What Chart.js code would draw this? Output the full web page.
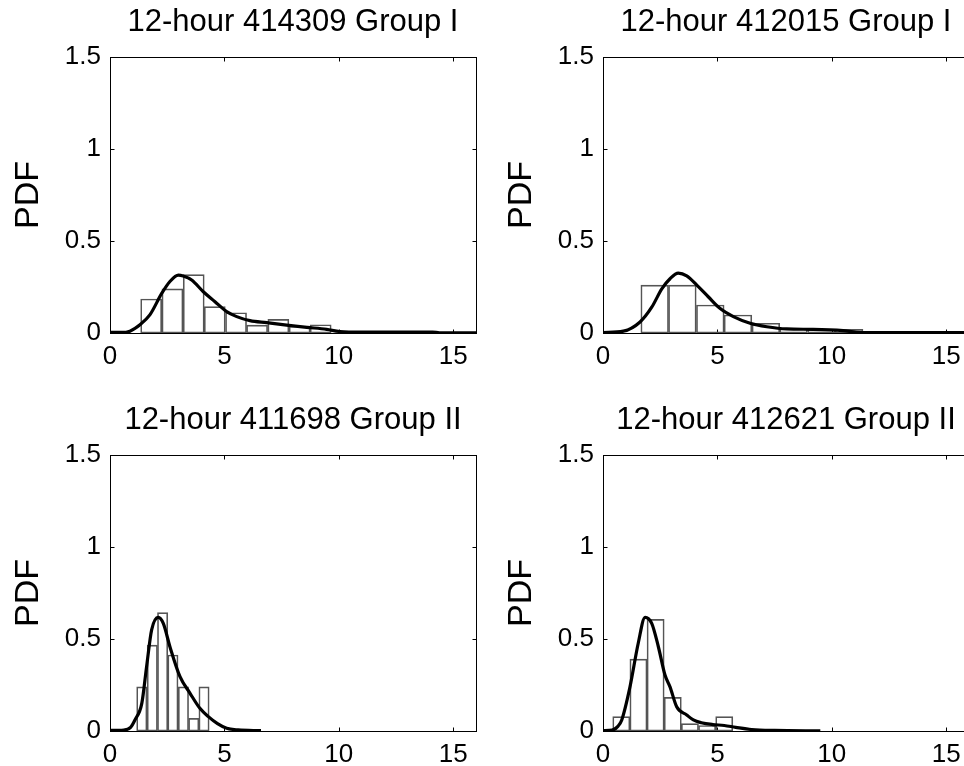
<!DOCTYPE html>
<html>
<head>
<meta charset="utf-8">
<script src="https://cdn.jsdelivr.net/npm/chart.js@4.4.0/dist/chart.umd.min.js"></script>
<style>
    html, body { margin: 0; padding: 0; background: #fff; overflow: hidden; width: 964px; height: 766px; }
    .panel { position: absolute; }
</style>
</head>
<body>
<div class="panel" style="left:0px;top:0px"><canvas id="c1" width="486" height="378"></canvas></div>
<div class="panel" style="left:493px;top:0px"><canvas id="c2" width="486" height="378"></canvas></div>
<div class="panel" style="left:0px;top:398px"><canvas id="c3" width="486" height="378"></canvas></div>
<div class="panel" style="left:493px;top:398px"><canvas id="c4" width="486" height="378"></canvas></div>
<script>
const xTickValues = [0, 5, 10, 15];
const yTickValues = [0, 0.5, 1, 1.5];
const panelTitles = ['12-hour 414309 Group I', '12-hour 412015 Group I', '12-hour 411698 Group II', '12-hour 412621 Group II'];

// station 414309
const hist1Centers = [1.80, 2.73, 3.66, 4.58, 5.51, 6.43, 7.36, 8.29, 9.21];
const hist1Heights = [0.185, 0.24, 0.317, 0.143, 0.11, 0.043, 0.074, 0.037, 0.045];
const kde1X = [0, 0.5, 0.87, 1.31, 1.75, 2.26, 2.62, 2.99, 3.20, 3.57, 4.08, 4.59, 5.10, 5.54, 6.12, 6.85, 7.72, 8.60, 9.47, 10.05, 11, 14.1, 14.4, 16];
const kde1Y = [0.003, 0.003, 0.01, 0.045, 0.10, 0.215, 0.28, 0.315, 0.31, 0.288, 0.224, 0.17, 0.116, 0.089, 0.067, 0.056, 0.043, 0.031, 0.02, 0.008, 0.005, 0.005, 0.001, 0.001];

// station 412015
const hist2Centers = [2.26, 3.47, 4.69, 5.90, 7.12, 8.33, 9.55, 10.76, 11.98];
const hist2Heights = [0.26, 0.26, 0.152, 0.098, 0.053, 0.025, 0.02, 0.02, 0.008];
const kde2X = [0, 0.89, 1.62, 2.13, 2.57, 2.93, 3.29, 3.66, 4.10, 4.60, 5.11, 5.70, 6.43, 7.16, 8.03, 9.18, 10.5, 11.09, 12, 16];
const kde2Y = [0.002, 0.01, 0.06, 0.14, 0.24, 0.295, 0.325, 0.31, 0.26, 0.197, 0.134, 0.089, 0.053, 0.034, 0.022, 0.02, 0.013, 0.004, 0.002, 0.002];

// station 411698
const hist3Centers = [1.39, 1.85, 2.30, 2.75, 3.21, 3.66, 4.11];
const hist3Heights = [0.24, 0.467, 0.643, 0.413, 0.24, 0.069, 0.24];
const kde3X = [0, 0.6, 0.9, 1.09, 1.39, 1.60, 1.82, 2.11, 2.33, 2.62, 3.06, 3.50, 3.93, 4.30, 4.7, 5.1, 5.6, 6.6];
const kde3Y = [0.003, 0.005, 0.02, 0.06, 0.15, 0.35, 0.55, 0.618, 0.585, 0.458, 0.295, 0.205, 0.123, 0.078, 0.04, 0.015, 0.006, 0.002];

// station 412621
const hist4Centers = [0.80, 1.55, 2.30, 3.05, 3.80, 4.55, 5.30];
const hist4Heights = [0.078, 0.391, 0.607, 0.183, 0.04, 0.03, 0.078];
const kde4X = [0, 0.4, 0.65, 0.82, 1.18, 1.54, 1.84, 2.13, 2.42, 2.71, 2.93, 3.22, 3.66, 3.95, 4.3, 4.8, 5.3, 5.8, 6.5, 7.5, 9.5];
const kde4Y = [0.002, 0.005, 0.025, 0.06, 0.24, 0.477, 0.618, 0.585, 0.458, 0.304, 0.24, 0.132, 0.087, 0.06, 0.045, 0.035, 0.03, 0.02, 0.008, 0.003, 0.001];

const FONT = "'Liberation Sans', Arial, sans-serif";
Chart.defaults.font.family = FONT;
Chart.defaults.color = '#000';

// matlab style box with inward ticks
const boxTicks = {
    id: 'boxTicks',
    beforeDatasetsDraw(chart) {
        const { ctx, chartArea: a, scales: { x, y } } = chart;
        const L = Math.round(a.left) + 0.5, R = Math.round(a.right) + 0.5;
        const T = Math.round(a.top) + 0.5, B = Math.round(a.bottom) + 0.5;
        ctx.save();
        ctx.strokeStyle = '#000';
        ctx.lineWidth = 1;
        ctx.strokeRect(L, T, R - L, B - T);
        ctx.beginPath();
        x.ticks.forEach(t => {
            const px = Math.round(x.getPixelForValue(t.value)) + 0.5;
            ctx.moveTo(px, B); ctx.lineTo(px, B - 4);
            ctx.moveTo(px, T); ctx.lineTo(px, T + 4);
        });
        y.ticks.forEach(t => {
            const py = Math.round(y.getPixelForValue(t.value)) + 0.5;
            ctx.moveTo(L, py); ctx.lineTo(L + 4, py);
            ctx.moveTo(R, py); ctx.lineTo(R - 4, py);
        });
        ctx.stroke();
        ctx.restore();
    }
};

function makePanel(id, title, centers, heights, kx, ky) {
    new Chart(document.getElementById(id), {
        type: 'bar',
        data: {
            datasets: [{
                type: 'line',
                data: kx.map((v, i) => ({ x: v, y: ky[i] })),
                borderColor: '#000',
                borderWidth: 3.2,
                pointRadius: 0,
                cubicInterpolationMode: 'monotone',
                fill: false,
                order: 0
            }, {
                type: 'bar',
                data: centers.map((v, i) => ({ x: v, y: heights[i] })),
                backgroundColor: 'rgba(255,255,255,0)',
                borderColor: '#555',
                borderWidth: 1,
                borderSkipped: false,
                barPercentage: 1,
                categoryPercentage: 1,
                order: 1
            }]
        },
        options: {
            responsive: false,
            animation: false,
            layout: { padding: { left: 0, right: 10, top: 0, bottom: 0 } },
            plugins: {
                legend: { display: false },
                tooltip: { enabled: false },
                title: {
                    display: true, text: title, fullSize: false, color: '#000',
                    font: { size: 31, weight: 'normal', lineHeight: 1.2 },
                    padding: { top: 3.4, bottom: 16.4 }
                }
            },
            scales: {
                x: {
                    type: 'linear', min: 0, max: 16, offset: false,
                    grid: { display: false, drawTicks: false },
                    border: { display: false },
                    afterBuildTicks: s => { s.ticks = xTickValues.map(v => ({ value: v })); },
                    afterFit: s => { s.height = 45; },
                    ticks: { color: '#000', font: { size: 26 }, padding: 8, maxRotation: 0, autoSkip: false,
                        callback: v => String(v) }
                },
                y: {
                    type: 'linear', min: 0, max: 1.5,
                    grid: { display: false, drawTicks: false },
                    border: { display: false },
                    afterBuildTicks: s => { s.ticks = yTickValues.map(v => ({ value: v })); },
                    afterFit: s => { s.width = 110; },
                    ticks: { color: '#000', font: { size: 26 }, padding: 9, autoSkip: false,
                        callback: v => String(v) },
                    title: { display: true, text: 'PDF', color: '#000', font: { size: 34 }, padding: { top: 8, bottom: 0 } }
                }
            }
        },
        plugins: [boxTicks]
    });
}

makePanel('c1', panelTitles[0], hist1Centers, hist1Heights, kde1X, kde1Y);
makePanel('c2', panelTitles[1], hist2Centers, hist2Heights, kde2X, kde2Y);
makePanel('c3', panelTitles[2], hist3Centers, hist3Heights, kde3X, kde3Y);
makePanel('c4', panelTitles[3], hist4Centers, hist4Heights, kde4X, kde4Y);
</script>
</body>
</html>
